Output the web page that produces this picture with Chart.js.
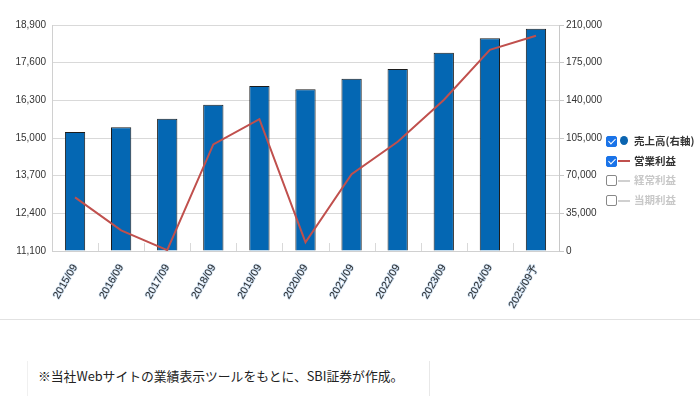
<!DOCTYPE html>
<html>
<head>
<meta charset="utf-8">
<script src="https://cdn.jsdelivr.net/npm/chart.js@4.4.0/dist/chart.umd.min.js"></script>
<style>
  body { margin: 0; background: #fff; width: 700px; height: 396px; overflow: hidden; position: relative; font-family: "Noto Sans CJK JP", "Liberation Sans", sans-serif; }
  #wrap { position: absolute; left: 0; top: 0; width: 700px; height: 318px; }
  #legend { position: absolute; left: 606px; top: 132px; font-size: 10.5px; font-weight: bold; color: #333; }
  .row { position: relative; height: 19.7px; white-space: nowrap; }
  .box { position: absolute; left: 0; top: 4px; width: 9px; height: 9px; border: 1px solid #888; border-radius: 2px; background: #fff; }
  .box.on { background: #1a73e8; border-color: #1a73e8; }
  .box.on:after { content: ""; position: absolute; left: 2.5px; top: 0px; width: 3px; height: 6px; border: solid #fff; border-width: 0 1.6px 1.6px 0; transform: rotate(45deg); }
  .dot { position: absolute; left: 14px; top: 4px; width: 8px; height: 9px; border-radius: 50%; background: #0a64b0; }
  .ln { position: absolute; left: 12px; top: 8.5px; width: 12px; height: 2px; background: #c0504d; }
  .ln.off { background: #d0d0d0; }
  .txt { position: absolute; left: 28px; top: 0; line-height: 18px; }
  .off-t { color: #c8c8c8; }
  #sep { position: absolute; left: 0; top: 319px; width: 700px; height: 1px; background: #e2e2e2; }
  #note { position: absolute; left: 27px; top: 361px; width: 401px; height: 35px; border-left: 1px solid #f0f0f0; border-right: 1px solid #e8e8e8; }
  #note span { position: absolute; left: 10px; top: 5px; font-size: 12.8px; color: #222; white-space: nowrap; }
</style>
</head>
<body>
<div id="wrap"><canvas id="myChart" width="700" height="318"></canvas></div>
<div id="legend">
  <div class="row"><div class="box on"></div><div class="dot"></div><div class="txt">売上高(右軸)</div></div>
  <div class="row"><div class="box on"></div><div class="ln"></div><div class="txt">営業利益</div></div>
  <div class="row"><div class="box"></div><div class="ln off"></div><div class="txt off-t">経常利益</div></div>
  <div class="row"><div class="box"></div><div class="ln off"></div><div class="txt off-t">当期利益</div></div>
</div>
<div id="sep"></div>
<div id="note"><span>※当社Webサイトの業績表示ツールをもとに、SBI証券が作成。</span></div>
<script>
// Data
var years = ['2015/09', '2016/09', '2017/09', '2018/09', '2019/09', '2020/09',
             '2021/09', '2022/09', '2023/09', '2024/09', '2025/09予'];
var sales = [110600, 114900, 122900, 135900, 153300, 150200,
             160100, 169100, 184300, 197600, 206600];
var operatingProfit = [12950, 11810, 11130, 14780, 15650, 11400,
                       13750, 14870, 16310, 18040, 18530];
var leftTicks = [11100, 18900, 1300];
var rightTicks = [0, 210000, 35000];

// small marks at category boundaries, inside the plot
var boundaryMarks = {
    id: 'boundaryMarks',
    afterDatasetsDraw(chart) {
        var x = chart.scales.x, a = chart.chartArea, c = chart.ctx;
        var half = (x.getPixelForValue(1) - x.getPixelForValue(0)) / 2;
        c.save();
        c.strokeStyle = '#d9d9d9';
        c.lineWidth = 1;
        for (var i = 1; i < years.length; i++) {
            var px = Math.round(x.getPixelForValue(i) - half) + 0.5;
            c.beginPath();
            c.moveTo(px, a.bottom - 8);
            c.lineTo(px, a.bottom);
            c.stroke();
        }
        c.restore();
    }
};

var ctx = document.getElementById('myChart').getContext('2d');
var BarChart = new Chart(ctx, {
    data: {
        labels: years,
        datasets: [{
            type: 'line',
            label: '営業利益',
            data: operatingProfit,
            yAxisID: 'y',
            borderColor: '#c0504d',
            borderWidth: 2,
            pointRadius: 0,
            tension: 0,
            order: 0
        }, {
            type: 'bar',
            label: '売上高(右軸)',
            data: sales,
            yAxisID: 'y1',
            backgroundColor: '#0467b3',
            borderColor: '#1c1c1c',
            borderWidth: 1,
            barPercentage: 0.88,
            categoryPercentage: 0.5,
            order: 1
        }]
    },
    options: {
        responsive: false,
        animation: false,
        layout: { padding: { top: 25, left: 0, right: 0, bottom: 0 } },
        plugins: { legend: { display: false }, tooltip: { enabled: false } },
        scales: {
            x: {
                afterFit: function (s) { s.height = 67; },
                grid: { display: false, drawTicks: false },
                border: { display: true, color: '#d0d0d0' },
                ticks: {
                    autoSkip: false, minRotation: 60, maxRotation: 60, padding: 11,
                    color: '#2b2b2b', font: { family: 'Liberation Sans', size: 10.5 },
                    textStrokeColor: 'rgba(160,195,230,0.55)', textStrokeWidth: 1.5
                }
            },
            y: {
                position: 'left',
                min: leftTicks[0], max: leftTicks[1],
                afterFit: function (s) { s.width = 52; },
                grid: { color: '#d9d9d9', drawTicks: false },
                border: { display: true, color: '#d0d0d0' },
                ticks: {
                    stepSize: leftTicks[2], padding: 6, color: '#333',
                    font: { family: 'Liberation Sans', size: 10 },
                    callback: function (v) { return v.toLocaleString('en-US'); }
                }
            },
            y1: {
                position: 'right',
                min: rightTicks[0], max: rightTicks[1],
                afterFit: function (s) { s.width = 141; },
                grid: { drawOnChartArea: false, color: '#c8c8c8', tickLength: 5 },
                border: { display: true, color: '#c8c8c8' },
                ticks: {
                    stepSize: rightTicks[2], padding: 2, color: '#333',
                    font: { family: 'Liberation Sans', size: 10 },
                    callback: function (v) { return v.toLocaleString('en-US'); }
                }
            }
        }
    },
    plugins: [boundaryMarks]
});
</script>
</body>
</html>
